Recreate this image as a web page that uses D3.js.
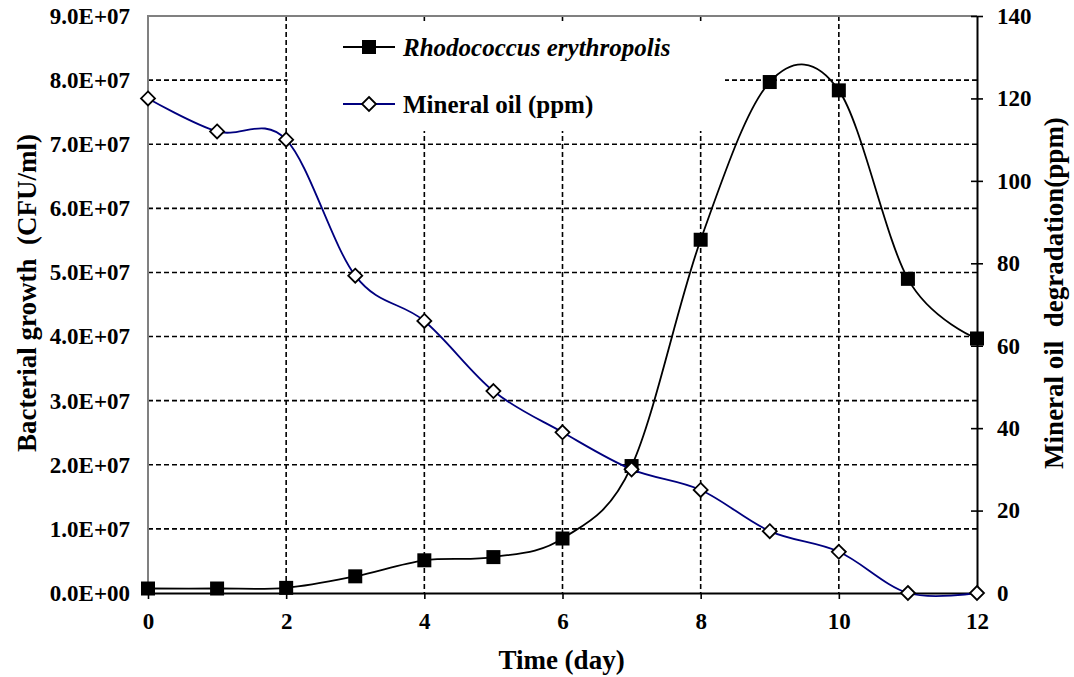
<!DOCTYPE html>
<html>
<head>
<meta charset="utf-8">
<script src="https://cdn.jsdelivr.net/npm/d3@7"></script>
<style>
  body { margin: 0; background: #fff; }
  svg text { font-family: "Liberation Serif", "Times New Roman", serif; font-weight: bold; fill: #000; }
</style>
</head>
<body>
<div id="chart"></div>
<script>
// growth curve vs oil removal over 12 days
const days = [0, 1, 2, 3, 4, 5, 6, 7, 8, 9, 10, 11, 12]
const bacteria = [7e5, 7e5, 8e5, 2.6e6, 5.1e6, 5.6e6, 8.5e6, 1.98e7, 5.51e7, 7.97e7, 7.84e7, 4.9e7, 3.97e7]
const mineralOil = [120, 112, 110, 77, 66, 49, 39, 30, 25, 15, 10, 0, 0]
const xTicks = [0, 2, 4, 6, 8, 10, 12]
const leftTicks = [0, 1e7, 2e7, 3e7, 4e7, 5e7, 6e7, 7e7, 8e7, 9e7]
const rightTicks = [0, 20, 40, 60, 80, 100, 120, 140]
const seriesNames = ["Rhodococcus erythropolis", "Mineral oil (ppm)"]

const W = 1074, H = 677
const plotL = 148, plotR = 977, plotT = 16, plotB = 593

const svg = d3.select("#chart").append("svg")
    .attr("width", W)
    .attr("height", H)

const x = d3.scaleLinear().domain([0, 12]).range([plotL, plotR])
const yL = d3.scaleLinear().domain([0, 9e7]).range([plotB, plotT])
const yR = d3.scaleLinear().domain([0, 140]).range([plotB, plotT])

// dashed grid
const grid = svg.append("g")
    .attr("stroke", "#000")
    .attr("stroke-width", 1.6)
    .attr("stroke-dasharray", "5,3")
grid.selectAll("line.h")
    .data(leftTicks.filter(d => d > 0 && d < 9e7))
    .join("line")
    .attr("class", "h")
    .attr("x1", plotL).attr("x2", plotR)
    .attr("y1", d => yL(d)).attr("y2", d => yL(d))
grid.selectAll("line.v")
    .data(xTicks.filter(d => d > 0 && d < 12))
    .join("line")
    .attr("class", "v")
    .attr("x1", d => x(d)).attr("x2", d => x(d))
    .attr("y1", plotT).attr("y2", plotB)

// gray frame on top and left
svg.append("path")
    .attr("d", `M${plotL},${plotB}V${plotT}H${plotR}`)
    .attr("fill", "none")
    .attr("stroke", "#808080")
    .attr("stroke-width", 2)

// legend box covers the grid behind it
svg.append("rect")
    .attr("x", x(2) + 1.5).attr("y", 21)
    .attr("width", 725 - x(2) - 1.5).attr("height", 110)
    .attr("fill", "#fff")

// left axis: labels only
svg.append("g")
    .attr("transform", `translate(${plotL},0)`)
    .call(d3.axisLeft(yL).tickValues(leftTicks).tickSize(0).tickPadding(18)
        .tickFormat(d => d === 0 ? "0.0E+00" : (d / 1e7).toFixed(1) + "E+07"))
    .call(g => g.select(".domain").remove())
    .selectAll("text")
    .attr("font-size", 23)
    .attr("font-family", null)

// bottom axis
svg.append("g")
    .attr("transform", `translate(0,${plotB})`)
    .call(d3.axisBottom(x).tickValues(xTicks).tickSizeInner(6).tickSizeOuter(0).tickPadding(14))
    .call(g => g.select(".domain").attr("stroke-width", 2))
    .call(g => g.selectAll(".tick line").attr("stroke-width", 1.6))
    .selectAll("text")
    .attr("font-size", 23)
    .attr("font-family", null)

// right axis with ticks crossing the line
svg.append("g")
    .attr("transform", `translate(${plotR},0)`)
    .call(d3.axisRight(yR).tickValues(rightTicks).tickSizeInner(6).tickSizeOuter(0).tickPadding(14))
    .call(g => g.select(".domain").attr("stroke-width", 2))
    .call(g => g.selectAll(".tick line").attr("x1", -6).attr("stroke-width", 1.6))
    .selectAll("text")
    .attr("font-size", 23)
    .attr("font-family", null)

const curve = d3.curveCardinal.tension(0)

// bacteria series
const lineB = d3.line().x((d, i) => x(days[i])).y(d => yL(d)).curve(curve)
svg.append("path")
    .datum(bacteria)
    .attr("d", lineB)
    .attr("fill", "none")
    .attr("stroke", "#000")
    .attr("stroke-width", 1.8)
svg.append("g").selectAll("rect")
    .data(bacteria)
    .join("rect")
    .attr("x", (d, i) => x(days[i]) - 7)
    .attr("y", d => yL(d) - 7)
    .attr("width", 14).attr("height", 14)
    .attr("fill", "#000")

// mineral oil series
const lineO = d3.line().x((d, i) => x(days[i])).y(d => yR(d)).curve(curve)
svg.append("path")
    .datum(mineralOil)
    .attr("d", lineO)
    .attr("fill", "none")
    .attr("stroke", "#00007f")
    .attr("stroke-width", 1.8)
const diamond = "M0,-7L7,0L0,7L-7,0Z"
svg.append("g").selectAll("path")
    .data(mineralOil)
    .join("path")
    .attr("transform", (d, i) => `translate(${x(days[i])},${yR(d)})`)
    .attr("d", diamond)
    .attr("fill", "#fff")
    .attr("stroke", "#000")
    .attr("stroke-width", 1.8)

// legend
const lg = svg.append("g")
const rowY = [47, 104]
lg.append("line").attr("x1", 343).attr("x2", 395).attr("y1", rowY[0]).attr("y2", rowY[0])
    .attr("stroke", "#000").attr("stroke-width", 1.8)
lg.append("rect").attr("x", 362).attr("y", rowY[0] - 7).attr("width", 14).attr("height", 14).attr("fill", "#000")
lg.append("line").attr("x1", 343).attr("x2", 395).attr("y1", rowY[1]).attr("y2", rowY[1])
    .attr("stroke", "#00007f").attr("stroke-width", 1.8)
lg.append("path").attr("transform", `translate(369,${rowY[1]})`).attr("d", diamond)
    .attr("fill", "#fff").attr("stroke", "#000").attr("stroke-width", 1.8)
lg.selectAll("text")
    .data(seriesNames)
    .join("text")
    .attr("x", 403)
    .attr("y", (d, i) => rowY[i])
    .attr("dy", "0.35em")
    .attr("font-size", 25)
    .attr("font-style", (d, i) => i === 0 ? "italic" : null)
    .text(d => d)

// axis titles
svg.append("text")
    .attr("x", (plotL + plotR) / 2 - 1)
    .attr("y", 669)
    .attr("text-anchor", "middle")
    .attr("font-size", 27)
    .text("Time (day)")
svg.append("text")
    .attr("transform", "translate(36,293) rotate(-90)")
    .attr("text-anchor", "middle")
    .attr("font-size", 27)
    .attr("xml:space", "preserve")
    .text("Bacterial growth  (CFU/ml)")
svg.append("text")
    .attr("transform", "translate(1063,293) rotate(-90)")
    .attr("text-anchor", "middle")
    .attr("font-size", 27)
    .attr("xml:space", "preserve")
    .text("Mineral oil  degradation(ppm)")
</script>
</body>
</html>
